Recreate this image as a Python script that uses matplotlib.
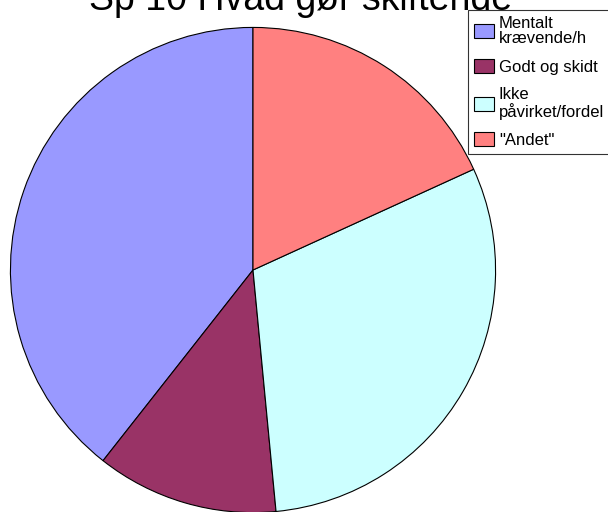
import matplotlib
matplotlib.use("Agg")
import matplotlib.pyplot as plt

# svarfordeling
labels = ["Mentalt\nkrævende/h", "Godt og skidt", "Ikke\npåvirket/fordel", '"Andet"']
values = [13, 4, 10, 6]
colors = ["#9999FF", "#993366", "#CCFFFF", "#FF8080"]

plt.rcParams["font.family"] = ["Liberation Sans", "DejaVu Sans"]

fig = plt.figure(figsize=(6.08, 5.12), dpi=100)
ax = fig.add_axes([8 / 608, -3 / 512, 490 / 608, 490 / 512])
wedges, _ = ax.pie(values, colors=colors, startangle=90, counterclock=True,
                   wedgeprops=dict(edgecolor="black", linewidth=0.8))
ax.set_xlim(-1.01, 1.01)
ax.set_ylim(-1.01, 1.01)
ax.set_aspect("equal")

# titlen ligger delvist over kanten
fig.text(301 / 608, 1 - 10 / 512, "Sp 10 Hvad gør skiftende", ha="center",
         va="baseline", fontsize=27)

leg = fig.legend(wedges, labels, loc="upper left",
                 bbox_to_anchor=(468 / 608, 1 - 10 / 512), fontsize=12,
                 frameon=True, fancybox=False, shadow=False, borderpad=0.35,
                 labelspacing=0.75, handlelength=1.2, handleheight=0.9,
                 handletextpad=0.3, borderaxespad=0)
leg.get_frame().set_edgecolor("black")
leg.get_frame().set_linewidth(0.8)
for t in leg.get_texts():
    t.set_linespacing(1.05)

fig.savefig("out.png", dpi=100)
